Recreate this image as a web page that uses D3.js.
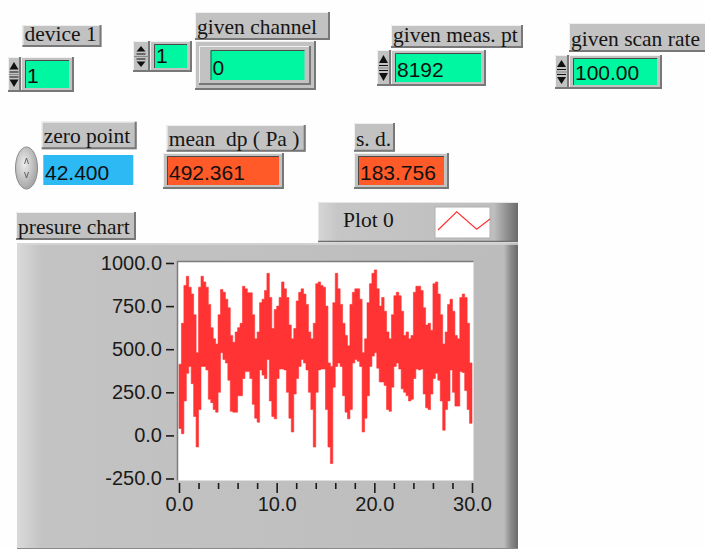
<!DOCTYPE html>
<html><head><meta charset="utf-8">
<script src="https://cdn.jsdelivr.net/npm/d3@7"></script>
<style>
html,body{margin:0;padding:0;background:#fefefe;}
svg{display:block;}
</style></head><body>
<svg id="c" width="705" height="549"></svg>
<script>
// ---------------- data ----------------
const xTickValues = [0, 10, 20, 30];
const xMinorTicks = [2, 4, 6, 8, 12, 14, 16, 18, 22, 24, 26, 28];
const yTickValues = [-250, 0, 250, 500, 750, 1000];
const binSeconds = 0.25;   // each envelope bin covers 0.25 s of the 30 s record
// upper envelope of the pressure trace per bin (Pa)
const pressureMax = [413,650,870,923,860,820,700,480,860,923,890,860,760,625,560,530,700,846,830,790,
  740,580,540,600,625,650,865,850,827,827,700,560,600,770,790,840,940,800,620,730,
  750,800,890,850,800,640,560,620,780,830,850,820,760,600,560,650,880,890,870,860,
  750,420,400,770,940,850,760,650,580,520,760,830,850,850,790,480,560,770,880,940,
  960,850,750,800,720,600,560,700,810,830,810,720,580,600,560,580,830,865,865,840,
  740,640,650,610,880,890,820,700,530,600,760,790,720,580,560,800,820,800,650,420];
// lower envelope of the pressure trace per bin (Pa)
const pressureMin = [40,10,200,360,400,300,110,-67,150,400,400,380,210,190,150,135,250,480,440,420,
  320,140,135,135,230,230,330,370,370,330,180,100,77,380,350,330,440,200,110,96,
  330,385,385,380,250,100,20,240,330,400,440,420,380,250,150,-67,250,380,385,385,
  150,-67,-163,280,400,420,400,230,135,96,150,420,440,430,400,20,100,230,400,460,
  480,390,310,310,290,150,140,280,400,420,385,270,250,230,200,210,330,385,380,385,
  240,160,150,240,330,360,320,200,30,150,200,380,250,170,170,370,365,260,150,70];
const labelTexts = ["device 1", "given channel", "given meas. pt", "given scan rate",
  "zero point", "mean  dp ( Pa )", "s. d.", "presure chart", "Plot 0"];
const valueTexts = ["1", "1", "0", "8192", "100.00", "42.400", "492.361", "183.756"];

// ---------------- drawing ----------------
const svg = d3.select("#c");
const defs = svg.append("defs");
const SERIF = "'Liberation Serif','DejaVu Serif',serif";
const SANS = "'Liberation Sans',Arial,sans-serif";
const GREEN = "#00f7a2", BLUE = "#2cb9f4", ORANGE = "#ff5a28", GRAY = "#c2c2c2";

function hGrad(id, stops) {
  const g = defs.append("linearGradient").attr("id", id)
    .attr("x1", "0").attr("x2", "1").attr("y1", "0").attr("y2", "0");
  stops.forEach(([o, c]) => g.append("stop").attr("offset", o).attr("stop-color", c));
}
hGrad("panelGrad", [["0", "#dadada"], ["0.05", "#c3c3c3"], ["0.5", "#c0c0c0"], ["0.972", "#bcbcbc"], ["0.985", "#8c8c8c"], ["1", "#6a6a6a"]]);
hGrad("legendGrad", [["0", "#d6d6d6"], ["0.1", "#c6c6c6"], ["0.88", "#bebebe"], ["0.93", "#9a9a9a"], ["1", "#6a6a6a"]]);
const rg = defs.append("radialGradient").attr("id", "knobGrad").attr("cx", "0.4").attr("cy", "0.4").attr("r", "0.7");
rg.append("stop").attr("offset", "0").attr("stop-color", "#eeeeee");
rg.append("stop").attr("offset", "1").attr("stop-color", "#9a9a9a");

function raised(x, y, w, h, fill) {
  svg.append("rect").attr("x", x).attr("y", y).attr("width", w).attr("height", h).attr("fill", fill);
  svg.append("path").attr("d", `M${x + 0.5},${y + h}V${y + 0.5}H${x + w}`)
    .attr("stroke", "#f0f0f0").attr("fill", "none");
  svg.append("path").attr("d", `M${x + w - 1},${y}V${y + h - 1}H${x}`)
    .attr("stroke", "#787878").attr("stroke-width", 2).attr("fill", "none");
}
function label(x, y, w, h, txt) {
  raised(x, y, w, h, GRAY);
  svg.append("text").attr("x", x + 2).attr("y", y + h - 6)
    .attr("font-family", SERIF).attr("font-size", 21.5).attr("fill", "#151515")
    .attr("xml:space", "preserve").style("white-space", "pre").text(txt);
}
function field(x, y, w, h, fill, txt) {
  svg.append("rect").attr("x", x).attr("y", y).attr("width", w).attr("height", h).attr("fill", fill);
  svg.append("path").attr("d", `M${x + 0.5},${y + h}V${y + 0.5}H${x + w}`)
    .attr("stroke", "#4a4a4a").attr("fill", "none");
  svg.append("text").attr("x", x + 2).attr("y", y + h - 5)
    .attr("font-family", SANS).attr("font-size", 21).attr("fill", "#101010").text(txt);
}
function numeric(x, y, w, h, fill, txt) {
  raised(x, y, w, h, GRAY);
  field(x + 4, y + 3, w - 9, h - 7, fill, txt);
}
function spinner(x, y, w, h) {
  raised(x, y, w, h, GRAY);
  const cx = x + w / 2 - 0.5, m = y + h / 2;
  svg.append("path").attr("d", `M${cx},${y + 5}L${cx + 4.5},${m - 5}L${cx - 4.5},${m - 5}Z`).attr("fill", "#111");
  svg.append("path").attr("d", `M${cx - 4.5},${m - 2.5}H${cx + 4.5}M${cx - 4.5},${m + 2.5}H${cx + 4.5}`)
    .attr("stroke", "#111").attr("stroke-width", 1.2);
  svg.append("path").attr("d", `M${cx},${y + h - 5}L${cx + 4.5},${m + 5}L${cx - 4.5},${m + 5}Z`).attr("fill", "#111");
  svg.append("line").attr("x1", x + 1).attr("x2", x + w - 1).attr("y1", m).attr("y2", m).attr("stroke", "#8a8a8a");
}

// top row
label(22.5, 25, 79, 22, labelTexts[0]);
spinner(8, 57, 13, 35);
numeric(21, 57, 53, 35, GREEN, valueTexts[0]);

spinner(133, 41, 17, 31);
numeric(150, 41, 42, 31, GREEN, valueTexts[1]);
label(195, 12, 135, 28, labelTexts[1]);
raised(195, 41, 121, 49, GRAY);
raised(199, 46, 112, 39, GRAY);
field(210.5, 50, 94, 30, GREEN, valueTexts[2]);

label(391, 25, 132, 23, labelTexts[2]);
spinner(377, 50, 14, 36);
numeric(391, 50, 95, 36, GREEN, valueTexts[3]);

label(569, 23, 140, 29, labelTexts[3]);
spinner(555, 55, 14, 34);
numeric(569, 55, 93, 34, GREEN, valueTexts[4]);

// second row
label(41.7, 121.7, 95, 27.6, labelTexts[4]);
svg.append("ellipse").attr("cx", 26.5).attr("cy", 168).attr("rx", 11).attr("ry", 21)
  .attr("fill", "url(#knobGrad)").attr("stroke", "#8a8a8a");
svg.append("path").attr("d", "M24.5,164L26.5,158L28.5,164M24.5,172L26.5,178L28.5,172")
  .attr("stroke", "#555").attr("fill", "none").attr("stroke-width", 0.9);
svg.append("rect").attr("x", 43.3).attr("y", 155).attr("width", 90).attr("height", 30).attr("fill", BLUE);
svg.append("text").attr("x", 45).attr("y", 180).attr("font-family", SANS).attr("font-size", 21)
  .attr("fill", "#101010").text(valueTexts[5]);

label(166.7, 125, 139, 26.7, labelTexts[5]);
numeric(163, 153, 121, 36, ORANGE, valueTexts[6]);

label(354, 123, 41, 28.7, labelTexts[6]);
numeric(354, 153, 95, 36, ORANGE, valueTexts[7]);

// chart label and legend
label(16, 212, 120, 28, labelTexts[7]);
svg.append("rect").attr("x", 318).attr("y", 202).attr("width", 200).attr("height", 40).attr("fill", "url(#legendGrad)");
svg.append("path").attr("d", "M318.5,242V202.5H518").attr("stroke", "#e6e6e6").attr("fill", "none");
svg.append("line").attr("x1", 318).attr("x2", 518).attr("y1", 241.5).attr("y2", 241.5).attr("stroke", "#6e6e6e").attr("stroke-width", 1.5);
svg.append("text").attr("x", 343).attr("y", 227).attr("font-family", SERIF).attr("font-size", 21.5)
  .attr("fill", "#151515").text(labelTexts[8]);
svg.append("rect").attr("x", 435).attr("y", 207).attr("width", 55).attr("height", 31).attr("fill", "#ffffff")
  .attr("stroke", "#b0b0b0").attr("stroke-width", 1);

// chart panel
svg.append("rect").attr("x", 17).attr("y", 243).attr("width", 501).attr("height", 306).attr("fill", "url(#panelGrad)");
svg.append("line").attr("x1", 17).attr("x2", 518).attr("y1", 244).attr("y2", 244).attr("stroke", "#d8d8d8").attr("stroke-width", 1.5);
svg.append("line").attr("x1", 17).attr("x2", 518).attr("y1", 548.5).attr("y2", 548.5).attr("stroke", "#8a8a8a");

const x = d3.scaleLinear().domain([0, 30]).range([179, 472]);
const y = d3.scaleLinear().domain([-250, 1000]).range([478.5, 263]);

// plot area
svg.append("rect").attr("x", 177.5).attr("y", 261.5).attr("width", 296).attr("height", 219).attr("fill", "#ffffff");
defs.append("clipPath").attr("id", "plotClip").append("rect")
  .attr("x", 178).attr("y", 262).attr("width", 295.5).attr("height", 218.5);

const bins = pressureMax.map((hi, i) => ({ t: i * binSeconds, hi, lo: pressureMin[i] }));
bins.push({ t: bins.length * binSeconds, hi: pressureMax[pressureMax.length - 1], lo: pressureMin[pressureMin.length - 1] });

const area = d3.area().curve(d3.curveStepAfter)
  .x(d => x(d.t)).y0(d => y(d.lo)).y1(d => y(d.hi));
svg.append("path").datum(bins).attr("clip-path", "url(#plotClip)")
  .attr("d", area).attr("fill", "#ff3333").attr("stroke", "#ff3333").attr("stroke-width", 0.6);

svg.append("path").attr("d", "M177.5,480.5V261.5H473.5").attr("stroke", "#7c7c7c").attr("stroke-width", 1.5).attr("fill", "none");

// legend swatch line
const legendLine = d3.line();
svg.append("path").attr("d", legendLine([[438, 230], [456.7, 211.7], [476.7, 229.3], [490, 219]]))
  .attr("stroke", "#ff3333").attr("fill", "none").attr("stroke-width", 1.2);

// axes
const fmt = d => d.toFixed(1);
const yAxis = svg.append("g").attr("transform", "translate(174,0)")
  .call(d3.axisLeft(y).tickValues(yTickValues).tickFormat(fmt).tickSize(8).tickPadding(4));
const xAxis = svg.append("g").attr("transform", "translate(0,483)")
  .call(d3.axisBottom(x).tickValues(xTickValues).tickFormat(fmt).tickSize(10).tickPadding(4));
const xMinor = svg.append("g").attr("transform", "translate(0,483)")
  .call(d3.axisBottom(x).tickValues(xMinorTicks).tickFormat("").tickSize(6));
[yAxis, xAxis, xMinor].forEach(g => {
  g.select(".domain").remove();
  g.selectAll("line").attr("stroke", "#1a1a1a").attr("stroke-width", 1.6);
  g.selectAll("text").attr("font-family", SANS).attr("font-size", 20).attr("fill", "#1a1a1a");
});
</script>
</body></html>
